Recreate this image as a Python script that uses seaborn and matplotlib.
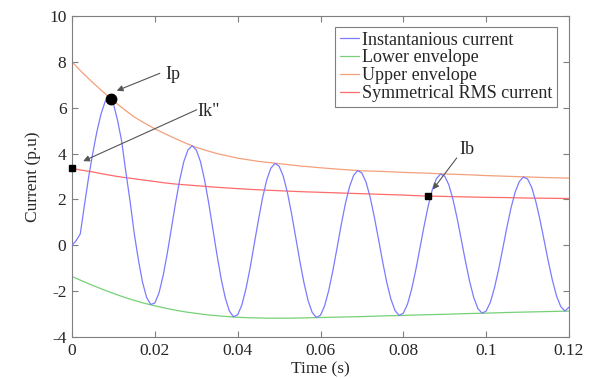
import numpy as np
import pandas as pd
import matplotlib
matplotlib.use("Agg")
import matplotlib.pyplot as plt
import seaborn as sns
from matplotlib.lines import Line2D

# ---------------- data ----------------
# instantaneous current, sampled every 1 ms from 0 to 0.12 s
t_inst = [round(0.001 * k, 3) for k in range(121)]
i_inst = [0.0, 0.2, 0.5, 1.75, 2.95, 4.0, 4.95, 5.72, 6.27, 6.43,
          6.17, 5.45, 4.53, 3.2, 1.95, 0.55, -0.60, -1.59, -2.27, -2.58,
          -2.52, -2.08, -1.33, -0.36, 0.74, 1.84, 2.85, 3.65, 4.16, 4.34,
          4.16, 3.66, 2.86, 1.85, 0.72, -0.41, -1.45, -2.29, -2.87, -3.12,
          -3.03, -2.61, -1.90, -0.99, 0.05, 1.09, 2.06, 2.84, 3.36, 3.57,
          3.45, 3.02, 2.31, 1.39, 0.36, -0.68, -1.63, -2.41, -2.93, -3.15,
          -3.05, -2.64, -1.96, -1.09, -0.11, 0.89, 1.81, 2.55, 3.05, 3.26,
          3.15, 2.75, 2.09, 1.23, 0.27, -0.71, -1.62, -2.35, -2.85, -3.06,
          -2.96, -2.57, -1.92, -1.08, -0.13, 0.83, 1.71, 2.43, 2.91, 3.11,
          3.01, 2.63, 1.99, 1.17, 0.24, -0.70, -1.57, -2.28, -2.76, -2.96,
          -2.87, -2.49, -1.86, -1.06, -0.15, 0.78, 1.63, 2.32, 2.78, 2.98,
          2.89, 2.52, 1.90, 1.11, 0.21, -0.70, -1.53, -2.21, -2.67, -2.87,
          -2.70]

# envelopes and RMS, sampled every 2.5 ms
t_env = [round(0.0025 * k, 4) for k in range(49)]
upper_env = [8.0, 7.53, 7.1, 6.69, 6.3, 5.94, 5.6, 5.33, 5.08, 4.86, 4.65, 4.45,
             4.27, 4.13, 4.0, 3.9, 3.8, 3.73, 3.66, 3.61, 3.56, 3.51, 3.46, 3.42,
             3.38, 3.345, 3.31, 3.28, 3.25, 3.235, 3.22, 3.2, 3.18, 3.165, 3.15,
             3.13, 3.11, 3.095, 3.08, 3.06, 3.04, 3.025, 3.01, 2.995, 2.98, 2.965,
             2.95, 2.94, 2.93]
lower_env = [-1.36, -1.56, -1.75, -1.93, -2.1, -2.26, -2.4, -2.53, -2.64, -2.74,
             -2.83, -2.91, -2.97, -3.03, -3.07, -3.11, -3.14, -3.16, -3.17, -3.18,
             -3.18, -3.18, -3.17, -3.16, -3.15, -3.14, -3.13, -3.12, -3.11, -3.095,
             -3.08, -3.07, -3.06, -3.045, -3.03, -3.02, -3.01, -2.995, -2.98,
             -2.97, -2.96, -2.945, -2.93, -2.92, -2.91, -2.9, -2.89, -2.88, -2.87]
sym_rms = [3.35, 3.27, 3.2, 3.11, 3.03, 2.96, 2.9, 2.84, 2.78, 2.72, 2.67, 2.635,
           2.6, 2.565, 2.53, 2.5, 2.47, 2.445, 2.42, 2.4, 2.38, 2.36, 2.34, 2.325,
           2.31, 2.295, 2.28, 2.265, 2.25, 2.235, 2.22, 2.205, 2.19, 2.17, 2.15,
           2.14, 2.13, 2.12, 2.11, 2.1, 2.09, 2.085, 2.08, 2.07, 2.06, 2.055,
           2.05, 2.045, 2.04]

# marked points
ip_t, ip_v = 0.0093, 6.4
ik_t, ik_v = 0.0, 3.35
ib_t, ib_v = 0.086, 2.14

labels = ["Instantanious current", "Lower envelope", "Upper envelope",
          "Symmetrical RMS current"]
x_ticks = [0, 0.02, 0.04, 0.06, 0.08, 0.1, 0.12]
x_tick_labels = ["0", "0.02", "0.04", "0.06", "0.08", "0.1", "0.12"]
y_ticks = [-4, -2, 0, 2, 4, 6, 8, 10]

# ---------------- style ----------------
sns.set_style("white")
plt.rcParams["font.family"] = ["Liberation Serif", "DejaVu Serif"]
plt.rcParams["axes.unicode_minus"] = False

c_inst = "#7b7bff"
c_low = "#77d077"
c_up = "#f3a07c"
c_rms = "#ff6b6b"

fig = plt.figure(figsize=(5.97, 3.79), dpi=100)
ax = fig.add_axes([72 / 597, 1 - 337 / 379, (569 - 72) / 597, (337 - 16) / 379])

df_inst = pd.DataFrame({"t": t_inst, "v": i_inst})
df_env = pd.DataFrame({"t": t_env, "up": upper_env, "low": lower_env, "rms": sym_rms})

lw = 0.9
sns.lineplot(data=df_inst, x="t", y="v", ax=ax, color=c_inst, lw=lw, zorder=3)
sns.lineplot(data=df_env, x="t", y="low", ax=ax, color=c_low, lw=lw, zorder=2)
sns.lineplot(data=df_env, x="t", y="up", ax=ax, color=c_up, lw=lw, zorder=2)
sns.lineplot(data=df_env, x="t", y="rms", ax=ax, color=c_rms, lw=lw, zorder=2)

ax.plot([ip_t], [ip_v], "o", color="black", ms=7.5, zorder=5, clip_on=False)
ax.plot([ik_t, ib_t], [ik_v, ib_v], "s", color="black", ms=5, zorder=5, clip_on=False)

arrow = dict(arrowstyle="-|>", color="#555555", lw=0.8, mutation_scale=9,
             shrinkA=0, shrinkB=0)
ax.annotate("", xy=(0.0108, 6.74), xytext=(0.0212, 7.5), arrowprops=arrow)
ax.text(0.0243, 7.43, "Ip", fontsize=13, ha="center", va="center")
ax.annotate("", xy=(0.0027, 3.67), xytext=(0.0301, 5.91), arrowprops=arrow)
ax.text(0.0330, 5.84, "Ik\"", fontsize=13, ha="center", va="center")
ax.annotate("", xy=(0.0871, 2.43), xytext=(0.0929, 3.81), arrowprops=arrow)
ax.text(0.0953, 4.17, "Ib", fontsize=13, ha="center", va="center")

ax.set_xlim(0, 0.12)
ax.set_ylim(-4, 10)
ax.set_xticks(x_ticks)
ax.set_xticklabels(x_tick_labels)
ax.set_yticks(y_ticks)
ax.set_xlabel("Time (s)", fontsize=12.5, labelpad=2)
ax.set_ylabel("Current (p.u)", fontsize=12.5, labelpad=6)
ax.tick_params(axis="both", which="both", direction="in", length=4,
               color="#7f7f7f", labelsize=12.5, top=True, right=True,
               bottom=True, left=True, pad=4)
for sp in ax.spines.values():
    sp.set_color("#7f7f7f")
    sp.set_linewidth(0.8)

handles = [Line2D([], [], color=c, lw=lw) for c in (c_inst, c_low, c_up, c_rms)]
leg = ax.legend(handles, labels, loc="upper right",
                bbox_to_anchor=(557 / 597, 1 - 27 / 379),
                bbox_transform=fig.transFigure, borderaxespad=0,
                fontsize=13, frameon=True, fancybox=False, framealpha=1,
                handlelength=1.1, handletextpad=0.15, labelspacing=0.05,
                borderpad=0.25)
leg.get_frame().set_edgecolor("#7f7f7f")
leg.get_frame().set_linewidth(0.8)

fig.savefig("out.png", dpi=100)
